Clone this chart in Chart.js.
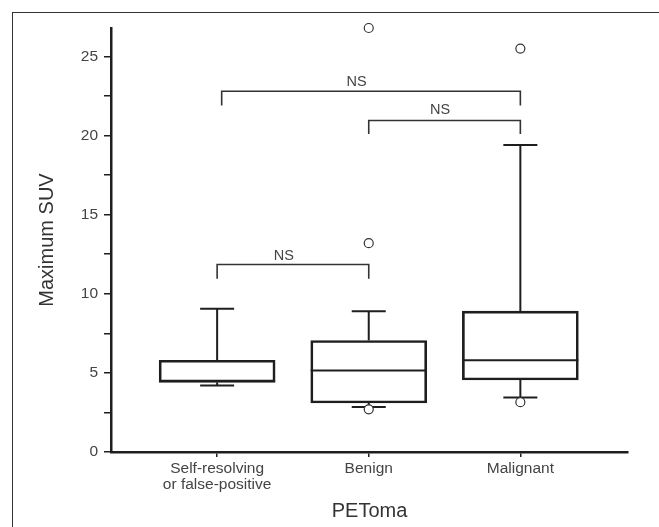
<!DOCTYPE html>
<html>
<head>
<meta charset="utf-8">
<script src="https://cdn.jsdelivr.net/npm/chart.js@4.4.1/dist/chart.umd.min.js"></script>
<style>
  html, body { margin: 0; padding: 0; background: #fff; overflow: hidden; }
  #wrap { position: relative; width: 659px; height: 527px; overflow: hidden; }
  #frame { position: absolute; left: 12px; top: 12px; width: 700px; height: 600px; border: 1.5px solid #333; }
  canvas { position: absolute; left: 0; top: 0; }
</style>
</head>
<body>
<div id="wrap">
  <div id="frame"></div>
  <canvas id="chart" width="659" height="527"></canvas>
</div>
<script>
// box plot values
const categories  = [['Self-resolving', 'or false-positive'], 'Benign', 'Malignant'];
const whiskerLow  = [4.2, 2.85, 3.45];
const q1          = [4.4, 3.1, 4.55];
const median      = [4.5, 5.15, 5.8];
const q3          = [5.8, 7.05, 8.9];
const whiskerHigh = [9.05, 8.9, 19.4];
const outliers    = [[], [26.8, 13.2, 2.7], [25.5, 3.15]];

const yTicks = [0, 2.5, 5, 7.5, 10, 12.5, 15, 17.5, 20, 22.5, 25];

// significance brackets
const bracketFrom = [0, 0.03, 1];
const bracketTo   = [1, 2, 2];
const bracketY    = [11.85, 22.8, 20.95];
const bracketLegY = [10.95, 21.9, 20.1];
const nsText      = ['NS', 'NS', 'NS'];
const nsX         = [0.44, 0.92, 1.47];
const nsY         = [12.4, 23.4, 21.6];

const INK = '#1e1e1e';
const TXT = '#444';
Chart.defaults.font.family = "'Liberation Sans', Arial, sans-serif";

function seg(ctx, x1, y1, x2, y2) {
  ctx.beginPath();
  ctx.moveTo(x1, y1);
  ctx.lineTo(x2, y2);
  ctx.stroke();
}

const boxExtras = {
  id: 'boxExtras',
  beforeDatasetsDraw(chart) {
    const { ctx, scales: { x, y } } = chart;
    const half = 58, cap = 17;
    ctx.save();
    ctx.strokeStyle = INK;
    ctx.lineWidth = 2;
    categories.forEach((c, i) => {
      const cx = x.getPixelForValue(i);
      // whiskers + caps
      seg(ctx, cx, y.getPixelForValue(q3[i]), cx, y.getPixelForValue(whiskerHigh[i]));
      seg(ctx, cx, y.getPixelForValue(q1[i]), cx, y.getPixelForValue(whiskerLow[i]));
      seg(ctx, cx - cap, y.getPixelForValue(whiskerHigh[i]), cx + cap, y.getPixelForValue(whiskerHigh[i]));
      seg(ctx, cx - cap, y.getPixelForValue(whiskerLow[i]), cx + cap, y.getPixelForValue(whiskerLow[i]));
      // median
      seg(ctx, cx - half, y.getPixelForValue(median[i]), cx + half, y.getPixelForValue(median[i]));
    });

    ctx.lineWidth = 1.6;
    ctx.strokeStyle = '#333';
    bracketFrom.forEach((f, i) => {
      const xa = x.getPixelForValue(f), xb = x.getPixelForValue(bracketTo[i]);
      const yt = y.getPixelForValue(bracketY[i]), yl = y.getPixelForValue(bracketLegY[i]);
      ctx.beginPath();
      ctx.moveTo(xa, yl);
      ctx.lineTo(xa, yt);
      ctx.lineTo(xb, yt);
      ctx.lineTo(xb, yl);
      ctx.stroke();
    });

    ctx.fillStyle = TXT;
    ctx.font = "14.5px 'Liberation Sans', Arial, sans-serif";
    ctx.textAlign = 'center';
    ctx.textBaseline = 'middle';
    nsText.forEach((t, i) => {
      ctx.fillText(t, x.getPixelForValue(nsX[i]), y.getPixelForValue(nsY[i]));
    });
    ctx.restore();
  }
};

const boxData = categories.map((c, i) => ({ x: i, y: [q1[i], q3[i]] }));
const outlierData = [];
outliers.forEach((vals, i) => vals.forEach(v => outlierData.push({ x: i, y: v })));

new Chart(document.getElementById('chart'), {
  type: 'bar',
  data: {
    datasets: [
      {
        type: 'scatter',
        data: outlierData,
        order: 0,
        pointRadius: 4.5,
        pointBackgroundColor: '#fff',
        pointBorderColor: '#333',
        pointBorderWidth: 1.2,
        clip: false
      },
      {
        type: 'bar',
        data: boxData,
        order: 1,
        barThickness: 116,
        backgroundColor: 'rgba(0,0,0,0)',
        borderColor: INK,
        borderWidth: 2,
        borderSkipped: false
      }
    ]
  },
  options: {
    responsive: false,
    animation: false,
    events: [],
    layout: { padding: { left: 0, top: 28, right: 31, bottom: 0 } },
    plugins: { legend: { display: false }, tooltip: { enabled: false } },
    scales: {
      x: {
        type: 'linear',
        min: -0.7,
        max: 2.71,
        offset: false,
        afterFit: s => { s.height = 75; },
        afterBuildTicks: s => { s.ticks = categories.map((c, i) => ({ value: i })); },
        ticks: {
          callback: (v, i) => categories[i],
          color: TXT,
          font: { size: 15.5, lineHeight: 1.0 },
          padding: 4,
          maxRotation: 0,
          autoSkip: false
        },
        grid: { offset: false, drawOnChartArea: false, drawTicks: true, tickLength: 5, color: INK, lineWidth: 1.5 },
        border: { display: true, color: INK, width: 2.5 },
        title: { display: true, text: 'PEToma', color: '#333', font: { size: 20 }, padding: { bottom: 4 } }
      },
      y: {
        min: 0,
        max: 26.8,
        afterFit: s => { s.width = 111; },
        afterBuildTicks: s => { s.ticks = yTicks.map(v => ({ value: v })); },
        ticks: {
          callback: v => (v % 5 === 0 ? String(v) : ''),
          color: TXT,
          font: { size: 15.5 },
          padding: 6
        },
        grid: { drawOnChartArea: false, drawTicks: true, tickLength: 7, color: INK, lineWidth: 1.5 },
        border: { display: true, color: INK, width: 2.5 },
        title: { display: true, text: 'Maximum SUV', color: '#333', font: { size: 20 }, padding: { top: 35 } }
      }
    }
  },
  plugins: [boxExtras]
});
</script>
</body>
</html>
